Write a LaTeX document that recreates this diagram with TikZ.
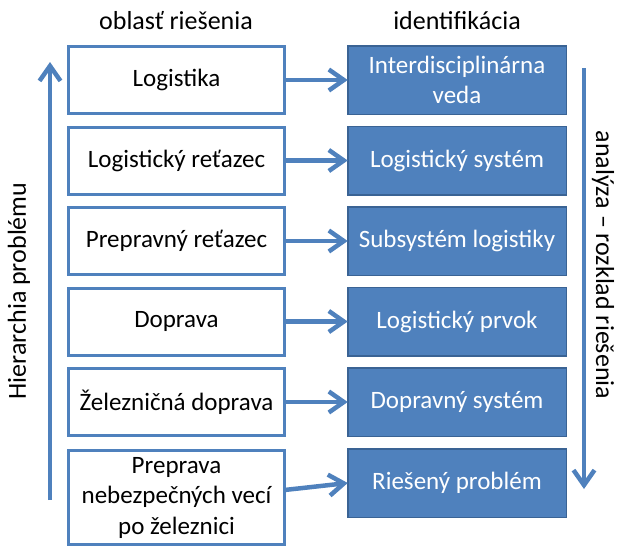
\documentclass[tikz,border=0pt]{standalone}
\usepackage{fontspec}
\setmainfont{Carlito}
\usetikzlibrary{arrows.meta}
\definecolor{officeblue}{HTML}{4F81BD}
\definecolor{officedark}{HTML}{3A6394}
\tikzset{
  areabox/.style={draw=officeblue, line width=3pt, fill=white, minimum width=216pt,
    minimum height=67pt, align=center, inner sep=0pt, outer sep=0pt,
    font=\fontsize{25}{30.5}\selectfont},
  idbox/.style={draw=officedark, line width=1.5pt, fill=officeblue, text=white,
    minimum width=218.5pt, minimum height=68.5pt, align=center, inner sep=0pt,
    outer sep=0pt, font=\fontsize{25}{30.5}\selectfont},
  flow/.style={draw=officeblue, line width=4.5pt,
    -{Straight Barb[length=15pt,width=21pt,line width=4.5pt]}},
  heading/.style={font=\fontsize{26}{30}\selectfont},
}
\begin{document}
\begin{tikzpicture}[x=1pt,y=-1pt]
\useasboundingbox (0,0) rectangle (619,547);

% column headings
\node[heading] (hl) at (176,21) {oblasť riešenia};
\node[heading] (hr) at (457,21) {identifikácia};

% problem areas
\node[areabox] (l1) at (176.5,80) {Logistika};
\node[areabox] (l2) at (176.5,160.5) {Logistický reťazec};
\node[areabox] (l3) at (176.5,241) {Prepravný reťazec};
\node[areabox] (l4) at (176.5,321.5) {Doprava};
\node[areabox] (l5) at (176.5,402) {Železničná doprava};
\node[areabox, minimum height=94pt] (l6) at (176.5,497.5) {Preprava\\nebezpečných vecí\\po železnici};

% identification
\node[idbox] (r1) at (457,80) {Interdisciplinárna\\veda};
\node[idbox] (r2) at (457,160.5) {Logistický systém};
\node[idbox] (r3) at (457,241) {Subsystém logistiky};
\node[idbox] (r4) at (457,321.5) {Logistický prvok};
\node[idbox] (r5) at (457,402) {Dopravný systém};
\node[idbox] (r6) at (457,483) {Riešený problém};

% links between the columns
\foreach \i in {1,...,5} \draw[flow] (l\i.east) -- (r\i.west);
\draw[flow] ([yshift=7.5pt]l6.east) -- (r6.west);

% side axes
\coordinate (hb) at (50,500);
\coordinate (ht) at (50,62);
\draw[flow] (hb) -- (ht);
\node[heading, rotate=90] (hlab) at (19,291) {Hierarchia problému};

\coordinate (at) at (584,68);
\coordinate (ab) at (584,489);
\draw[flow, line width=4pt] (at) -- (ab);
\node[heading, rotate=-90] (alab) at (603,265) {analýza – rozklad riešenia};
\end{tikzpicture}
\end{document}
